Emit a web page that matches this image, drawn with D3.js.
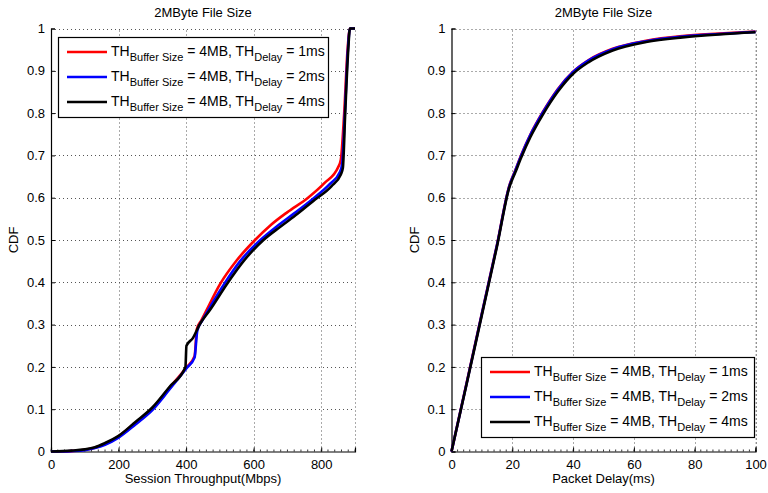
<!DOCTYPE html>
<html>
<head>
<meta charset="utf-8">
<script src="https://cdn.jsdelivr.net/npm/d3@7"></script>
<style>
  body { margin: 0; background: #fff; }
  text { font-family: "Liberation Sans", Arial, sans-serif; fill: #000; }
</style>
</head>
<body>
<div id="chart"></div>
<script>
// ---- data ----
const seriesNames = ["1ms", "2ms", "4ms"];
const seriesColors = ["#ff0000", "#0000ff", "#000000"];

// Session throughput CDF (Mbps, CDF)
const thrRed = [[0,0],[60,0.001],[100,0.004],[130,0.009],[160,0.018],[200,0.036],[250,0.068],[300,0.102],[350,0.15],[400,0.198],[425,0.225],[432,0.29],[445,0.31],[461,0.335],[500,0.395],[550,0.452],[604,0.5],[650,0.535],[700,0.566],[761,0.6],[810,0.635],[850,0.672],[858,0.69],[868,0.8],[878,0.95],[885,1],[900,1]];
const thrBlue = [[0,0],[60,0.001],[100,0.003],[130,0.008],[160,0.016],[200,0.033],[250,0.064],[300,0.098],[350,0.146],[400,0.196],[425,0.222],[433,0.285],[448,0.31],[466,0.335],[512,0.395],[560,0.45],[620,0.5],[670,0.533],[720,0.563],[775,0.597],[825,0.632],[855,0.66],[862,0.68],[870,0.8],[879,0.95],[885,1],[900,1]];
const thrBlack = [[0,0],[60,0.002],[100,0.005],[130,0.01],[160,0.02],[200,0.037],[250,0.07],[300,0.104],[350,0.152],[398,0.2],[401,0.25],[420,0.268],[440,0.3],[471,0.335],[520,0.395],[570,0.45],[629,0.5],[680,0.532],[730,0.562],[781,0.595],[830,0.627],[858,0.655],[864,0.67],[871,0.8],[880,0.95],[885,1],[900,1]];

// Packet delay CDF (ms, CDF)
const dlyRed = [[0,0],[5,0.163],[10,0.327],[15,0.49],[19,0.628],[21,0.665],[23,0.702],[26,0.75],[30,0.802],[35,0.857],[40,0.898],[45,0.925],[53,0.952],[64,0.971],[76,0.982],[88,0.988],[100,0.993]];
const dlyBlue = [[0,0],[5,0.162],[10,0.326],[15,0.489],[19,0.627],[21,0.664],[23,0.701],[26,0.749],[30,0.801],[35,0.856],[40,0.897],[45,0.924],[53,0.951],[64,0.97],[76,0.981],[88,0.987],[100,0.992]];
const dlyBlack = [[0,0],[5,0.16],[10,0.323],[15,0.486],[19,0.624],[21,0.66],[23,0.696],[26,0.744],[30,0.796],[35,0.851],[40,0.893],[45,0.92],[53,0.948],[64,0.968],[76,0.979],[88,0.986],[100,0.991]];

const thrTicks = [0, 200, 400, 600, 800];
const dlyTicks = [0, 20, 40, 60, 80, 100];
const cdfTicks = [0, 0.1, 0.2, 0.3, 0.4, 0.5, 0.6, 0.7, 0.8, 0.9, 1];

const W = 768, H = 493;
const svg = d3.select("#chart").append("svg").attr("width", W).attr("height", H);

function panel(opt) {
  const x = d3.scaleLinear().domain(opt.xDomain).range([opt.left, opt.right]);
  const y = d3.scaleLinear().domain([0, 1]).range([451.5, 28.5]);
  const g = svg.append("g");

  // grid
  g.append("g").selectAll("line.gx").data(opt.xTicks.filter(d => d !== opt.xDomain[0])).enter()
    .append("line")
    .attr("x1", d => Math.round(x(d)) + 0.5).attr("x2", d => Math.round(x(d)) + 0.5)
    .attr("y1", y(0)).attr("y2", y(1))
    .attr("stroke", "#555").attr("stroke-width", 1).attr("stroke-dasharray", "1,3");
  // right edge dotted too
  g.append("line")
    .attr("x1", x(opt.xDomain[1]) + 0.5).attr("x2", x(opt.xDomain[1]) + 0.5)
    .attr("y1", y(0)).attr("y2", y(1))
    .attr("stroke", "#555").attr("stroke-dasharray", "1,3");
  g.append("g").selectAll("line.gy").data(cdfTicks.filter(d => d > 0)).enter()
    .append("line")
    .attr("y1", d => Math.round(y(d)) + 0.5).attr("y2", d => Math.round(y(d)) + 0.5)
    .attr("x1", x(opt.xDomain[0])).attr("x2", x(opt.xDomain[1]))
    .attr("stroke", "#555").attr("stroke-width", 1).attr("stroke-dasharray", "1,3");

  // axes
  const xa = g.append("g").attr("transform", `translate(0,${y(0)})`)
    .call(d3.axisBottom(x).tickValues(opt.xTicks).tickSize(-4).tickPadding(8).tickFormat(d3.format("d")));
  const ya = g.append("g").attr("transform", `translate(${x(opt.xDomain[0])},0)`)
    .call(d3.axisLeft(y).tickValues(cdfTicks).tickSize(-4).tickPadding(6).tickFormat(d => d === 0 || d === 1 ? d : d3.format(".1f")(d)));
  [xa, ya].forEach(a => {
    a.select(".domain").attr("stroke", "#000").attr("stroke-width", 1.2);
    a.selectAll(".tick line").attr("stroke", "#000");
    a.selectAll(".tick text").attr("font-size", 13).attr("font-family", "Liberation Sans, Arial, sans-serif");
  });
  // minor ticks on x
  g.append("g").selectAll("line").data(d3.range(opt.xDomain[0], opt.xDomain[1] + 1e-9, opt.minor)).enter()
    .append("line")
    .attr("x1", d => x(d)).attr("x2", d => x(d))
    .attr("y1", y(0)).attr("y2", y(0) - 2)
    .attr("stroke", "#000").attr("stroke-width", 0.8);

  // curves
  const line = d3.line().x(d => x(d[0])).y(d => y(d[1])).curve(d3.curveMonotoneX);
  opt.series.forEach((s, i) => {
    g.append("path").datum(s).attr("d", line)
      .attr("fill", "none").attr("stroke", seriesColors[i])
      .attr("stroke-width", 2.6).attr("stroke-linejoin", "round");
  });

  // title and labels
  g.append("text").attr("x", (opt.left + opt.right) / 2).attr("y", 17)
    .attr("text-anchor", "middle").attr("font-size", 13).text("2MByte File Size");
  g.append("text").attr("x", (opt.left + opt.right) / 2).attr("y", 483)
    .attr("text-anchor", "middle").attr("font-size", 13).text(opt.xLabel);
  g.append("text").attr("transform", `translate(${opt.left - 33},${y(0.5)}) rotate(-90)`)
    .attr("text-anchor", "middle").attr("font-size", 13).text("CDF");

  // legend
  const lg = g.append("g").attr("transform", `translate(${opt.legend[0]},${opt.legend[1]})`);
  lg.append("rect").attr("x", 0.5).attr("y", 0.5).attr("width", opt.legendW).attr("height", 80)
    .attr("fill", "#fff").attr("stroke", "#000").attr("stroke-width", 1.2);
  seriesNames.forEach((name, i) => {
    const cy = 15 + i * 25;
    lg.append("line").attr("x1", 9).attr("x2", 49).attr("y1", cy).attr("y2", cy)
      .attr("stroke", seriesColors[i]).attr("stroke-width", 2.6);
    const t = lg.append("text").attr("x", 53).attr("y", cy + 4).attr("font-size", 14);
    t.append("tspan").text("TH");
    t.append("tspan").attr("font-size", 11).attr("dy", 5).text("Buffer Size");
    t.append("tspan").attr("dy", -5).text(" = 4MB, TH");
    t.append("tspan").attr("font-size", 11).attr("dy", 5).text("Delay");
    t.append("tspan").attr("dy", -5).text(" = " + name);
  });
}

panel({
  left: 51, right: 355, xDomain: [0, 900], xTicks: thrTicks, minor: 20,
  xLabel: "Session Throughput(Mbps)",
  series: [thrRed, thrBlue, thrBlack],
  legend: [58, 37], legendW: 270
});
panel({
  left: 451.5, right: 755.5, xDomain: [0, 100], xTicks: dlyTicks, minor: 2,
  xLabel: "Packet Delay(ms)",
  series: [dlyRed, dlyBlue, dlyBlack],
  legend: [481, 357], legendW: 273
});
</script>
</body>
</html>
